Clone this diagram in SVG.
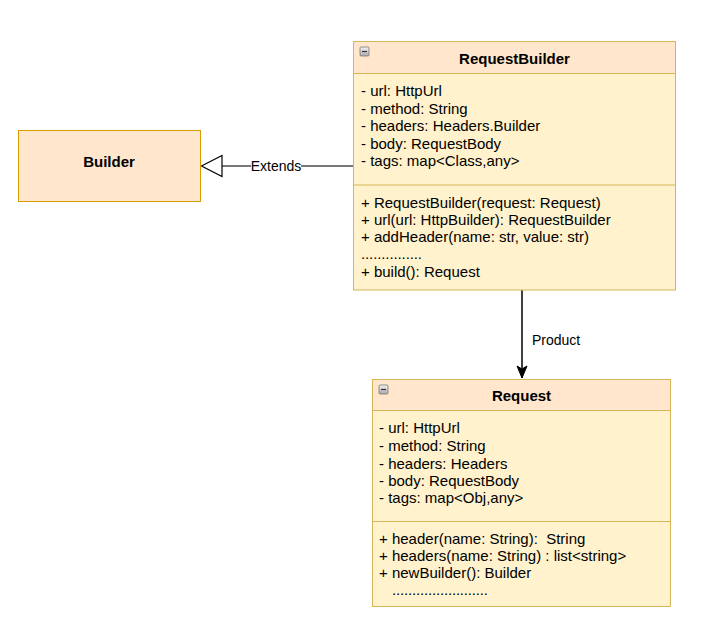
<svg xmlns="http://www.w3.org/2000/svg" width="711" height="630" viewBox="0 0 711 630">
<defs>
<linearGradient id="ig" x1="0" y1="0" x2="0" y2="1"><stop offset="0" stop-color="#f4f4f4"/><stop offset="1" stop-color="#a8a8a8"/></linearGradient>
<marker id="arr" viewBox="0 0 12 14" refX="6" refY="13" markerWidth="12" markerHeight="14" markerUnits="userSpaceOnUse" orient="0"><path d="M1,1 L6,4 L11,1 L6,13 Z" fill="#000" stroke="#000" stroke-width="1"/></marker>
</defs>
<style>
text{font-family:"Liberation Sans",Arial,sans-serif;font-size:15px;fill:#000}
.b{font-weight:bold;text-anchor:middle}
.lbl{font-size:14px}
.hd{fill:#ffe6cc;stroke:#d79b00;stroke-width:1}
.bd{fill:#fff2cc;stroke:#d6b656;stroke-width:1}
.ic{fill:url(#ig);stroke:#777;stroke-width:0.8}
</style>
<rect width="711" height="630" fill="#fff"/>
<g id="connectors">
<line x1="353" y1="166" x2="222" y2="166" stroke="#4d4d4d" stroke-width="1.5"/>
<path d="M222,155.5 L201.5,166 L222,176.5 Z" fill="#fff" stroke="#000" stroke-width="1.2"/>
<rect x="251" y="158" width="50" height="16" fill="#fff"/>
<text class="lbl" x="276" y="171" text-anchor="middle">Extends</text>
<line x1="522" y1="290" x2="522" y2="378" stroke="#000" stroke-width="1.5" marker-end="url(#arr)"/>
<text class="lbl" x="532" y="345">Product</text>
</g>
<g id="Builder">
<rect class="hd" x="18.5" y="130.5" width="182" height="71"/>
<text class="b" x="109" y="167">Builder</text>
</g>
<g id="RequestBuilder">
<rect class="bd" x="353.5" y="41.5" width="322" height="248.5"/>
<rect class="hd" x="353.5" y="41.5" width="322" height="32" style="stroke:#d6b656"/>
<line x1="353.5" y1="185" x2="675.5" y2="185" stroke="#d6b656"/>
<rect class="ic" x="360" y="47" width="9" height="9" rx="1"/>
<line x1="362" y1="51.5" x2="367" y2="51.5" stroke="#333" stroke-width="1.2"/>
<text class="b" x="514.5" y="64">RequestBuilder</text>
<text x="361" y="96">- url: HttpUrl</text>
<text x="361" y="114">- method: String</text>
<text x="361" y="131">- headers: Headers.Builder</text>
<text x="361" y="149">- body: RequestBody</text>
<text x="361" y="166">- tags: map&lt;Class,any&gt;</text>
<text x="361" y="208">+ RequestBuilder(request: Request)</text>
<text x="361" y="225">+ url(url: HttpBuilder): RequestBuilder</text>
<text x="361" y="242">+ addHeader(name: str, value: str)</text>
<text x="361" y="259" textLength="61" lengthAdjust="spacing">...............</text>
<text x="361" y="277">+ build(): Request</text>
</g>
<g id="Request">
<rect class="bd" x="372.5" y="379.5" width="298" height="227"/>
<rect class="hd" x="372.5" y="379.5" width="298" height="31" style="stroke:#d6b656"/>
<line x1="372.5" y1="521.5" x2="670.5" y2="521.5" stroke="#d6b656"/>
<rect class="ic" x="379" y="385" width="9" height="9" rx="1"/>
<line x1="381" y1="389.5" x2="386" y2="389.5" stroke="#333" stroke-width="1.2"/>
<text class="b" x="521.5" y="401">Request</text>
<text x="379" y="433">- url: HttpUrl</text>
<text x="379" y="451">- method: String</text>
<text x="379" y="469">- headers: Headers</text>
<text x="379" y="486">- body: RequestBody</text>
<text x="379" y="503">- tags: map&lt;Obj,any&gt;</text>
<text x="379" y="544">+ header(name: String):&#160; String</text>
<text x="379" y="561">+ headers(name: String) : list&lt;string&gt;</text>
<text x="379" y="578">+ newBuilder(): Builder</text>
<text x="392" y="595" textLength="96" lengthAdjust="spacing">........................</text>
</g>
</svg>
